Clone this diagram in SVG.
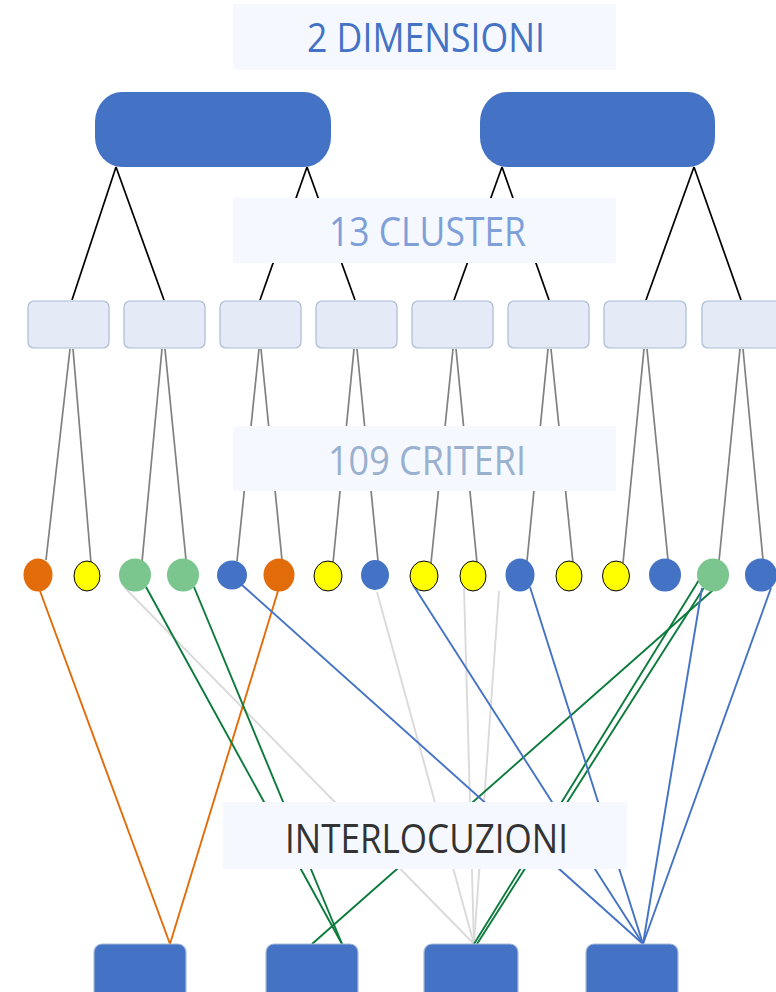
<svg xmlns="http://www.w3.org/2000/svg" width="776" height="992" viewBox="0 0 776 992">
<style>
.lbl{fill:#f5f9ff}
.lt{font-family:"Open Sans","Liberation Sans",sans-serif;font-size:39.5px;text-anchor:start}
.dim{fill:#4472c4}
.clu{fill:#e4eaf6;stroke:#a9bbd6;stroke-width:1.2}
.bot{fill:#4472c4;stroke:#a9bbd6;stroke-width:1.2}
.k{stroke:#000;stroke-width:1.7}
.g{stroke:#808080;stroke-width:1.7}
.o{stroke:#e36c0a;stroke-width:1.9}
.gr{stroke:#0b7a3b;stroke-width:1.9}
.lg{stroke:#dadada;stroke-width:1.9}
.b{stroke:#4472c4;stroke-width:1.9}
.dO{fill:#e36c0a}
.dY{fill:#ffff00;stroke:#000;stroke-width:1}
.dG{fill:#7bc68f}
.dB{fill:#4472c4}
</style>
<rect width="776" height="992" fill="#fff"/>
<g id="connectors" fill="none">
<line class="k" x1="116" y1="167" x2="72" y2="300"/>
<line class="k" x1="116" y1="167" x2="164" y2="300"/>
<line class="k" x1="307" y1="167" x2="260" y2="300"/>
<line class="k" x1="307" y1="167" x2="355" y2="300"/>
<line class="k" x1="502" y1="167" x2="454" y2="300"/>
<line class="k" x1="502" y1="167" x2="549" y2="300"/>
<line class="k" x1="694" y1="167" x2="646" y2="300"/>
<line class="k" x1="694" y1="167" x2="741" y2="300"/>
<line class="g" x1="70" y1="349" x2="46" y2="560"/>
<line class="g" x1="73" y1="349" x2="91" y2="563"/>
<line class="g" x1="162" y1="349" x2="142" y2="562"/>
<line class="g" x1="165" y1="349" x2="186" y2="560"/>
<line class="g" x1="259" y1="349" x2="237" y2="561"/>
<line class="g" x1="261" y1="349" x2="282" y2="560"/>
<line class="g" x1="354" y1="349" x2="333" y2="563"/>
<line class="g" x1="357" y1="349" x2="378" y2="561"/>
<line class="g" x1="453" y1="349" x2="431" y2="563"/>
<line class="g" x1="456" y1="349" x2="477" y2="563"/>
<line class="g" x1="548" y1="349" x2="527" y2="561"/>
<line class="g" x1="551" y1="349" x2="573" y2="563"/>
<line class="g" x1="644" y1="349" x2="623" y2="563"/>
<line class="g" x1="647" y1="349" x2="668" y2="560"/>
<line class="g" x1="740" y1="349" x2="719" y2="561"/>
<line class="g" x1="743" y1="349" x2="763" y2="560"/>
<line class="lg" x1="125" y1="588" x2="474" y2="944"/>
<line class="lg" x1="377" y1="592" x2="474" y2="944"/>
<line class="lg" x1="464" y1="588" x2="474" y2="944"/>
<line class="lg" x1="499" y1="591" x2="474" y2="944"/>
<line class="o" x1="40" y1="591" x2="170" y2="944"/>
<line class="o" x1="278" y1="591" x2="170" y2="944"/>
<line class="gr" x1="146" y1="587" x2="342" y2="944"/>
<line class="gr" x1="194" y1="587" x2="342" y2="944"/>
<line class="gr" x1="713" y1="590" x2="312" y2="944"/>
<line class="gr" x1="699" y1="580" x2="474" y2="944"/>
<line class="gr" x1="705" y1="586" x2="477" y2="944"/>
<line class="b" x1="242" y1="585" x2="643" y2="944"/>
<line class="b" x1="413" y1="585" x2="643" y2="944"/>
<line class="b" x1="530" y1="587" x2="643" y2="944"/>
<line class="b" x1="702" y1="588" x2="643" y2="944"/>
<line class="b" x1="771" y1="588" x2="643" y2="944"/>
</g>
<g id="label-dimensioni"><rect class="lbl" x="233" y="4" width="383" height="66"/><text class="lt" x="307" y="52" fill="#4472c4" textLength="238" lengthAdjust="spacingAndGlyphs">2 DIMENSIONI</text></g>
<g id="label-cluster"><rect class="lbl" x="233" y="198" width="383" height="65"/><text class="lt" x="329" y="246" fill="#7f9fd9" textLength="197" lengthAdjust="spacingAndGlyphs">13 CLUSTER</text></g>
<g id="label-criteri"><rect class="lbl" x="233" y="426" width="383" height="65"/><text class="lt" x="328" y="475" fill="#9ab0cf" textLength="198" lengthAdjust="spacingAndGlyphs">109 CRITERI</text></g>
<g id="label-interlocuzioni"><rect class="lbl" x="223" y="802" width="404" height="67"/><text class="lt" x="285" y="853" fill="#333" textLength="283" lengthAdjust="spacingAndGlyphs">INTERLOCUZIONI</text></g>
<g id="dim1"><rect class="dim" x="95" y="92" width="236" height="75" rx="27" ry="30"/></g>
<g id="dim2"><rect class="dim" x="480" y="92" width="235" height="75" rx="27" ry="30"/></g>
<g id="cl1"><rect class="clu" x="28" y="301" width="81" height="47" rx="6"/></g>
<g id="cl2"><rect class="clu" x="124" y="301" width="81" height="47" rx="6"/></g>
<g id="cl3"><rect class="clu" x="220" y="301" width="81" height="47" rx="6"/></g>
<g id="cl4"><rect class="clu" x="316" y="301" width="81" height="47" rx="6"/></g>
<g id="cl5"><rect class="clu" x="412" y="301" width="81" height="47" rx="6"/></g>
<g id="cl6"><rect class="clu" x="508" y="301" width="81" height="47" rx="6"/></g>
<g id="cl7"><rect class="clu" x="604" y="301" width="82" height="47" rx="6"/></g>
<g id="cl8"><rect class="clu" x="702" y="301" width="82" height="47" rx="6"/></g>
<g id="c1"><ellipse class="dO" cx="38" cy="575" rx="14.5" ry="16.5"/></g>
<g id="c2"><ellipse class="dY" cx="87" cy="576" rx="13" ry="15"/></g>
<g id="c3"><ellipse class="dG" cx="135" cy="575" rx="16" ry="16.5"/></g>
<g id="c4"><ellipse class="dG" cx="183" cy="575" rx="16" ry="16.5"/></g>
<g id="c5"><ellipse class="dB" cx="232" cy="575" rx="15" ry="14.5"/></g>
<g id="c6"><ellipse class="dO" cx="279" cy="575" rx="15.5" ry="16.5"/></g>
<g id="c7"><ellipse class="dY" cx="328" cy="576" rx="14" ry="15"/></g>
<g id="c8"><ellipse class="dB" cx="375" cy="575" rx="14" ry="15"/></g>
<g id="c9"><ellipse class="dY" cx="424" cy="576" rx="14" ry="15"/></g>
<g id="c10"><ellipse class="dY" cx="473" cy="576" rx="13" ry="15"/></g>
<g id="c11"><ellipse class="dB" cx="520" cy="575" rx="14.5" ry="16.5"/></g>
<g id="c12"><ellipse class="dY" cx="569" cy="576" rx="13" ry="15"/></g>
<g id="c13"><ellipse class="dY" cx="616" cy="576" rx="13.5" ry="15"/></g>
<g id="c14"><ellipse class="dB" cx="665" cy="575" rx="16" ry="16.5"/></g>
<g id="c15"><ellipse class="dG" cx="713" cy="575" rx="16" ry="16.5"/></g>
<g id="c16"><ellipse class="dB" cx="761" cy="575" rx="16" ry="16.5"/></g>
<g id="i1"><rect class="bot" x="94" y="944" width="92" height="60" rx="8"/></g>
<g id="i2"><rect class="bot" x="266" y="944" width="92" height="60" rx="8"/></g>
<g id="i3"><rect class="bot" x="424" y="944" width="94" height="60" rx="8"/></g>
<g id="i4"><rect class="bot" x="586" y="944" width="92" height="60" rx="8"/></g>
</svg>
